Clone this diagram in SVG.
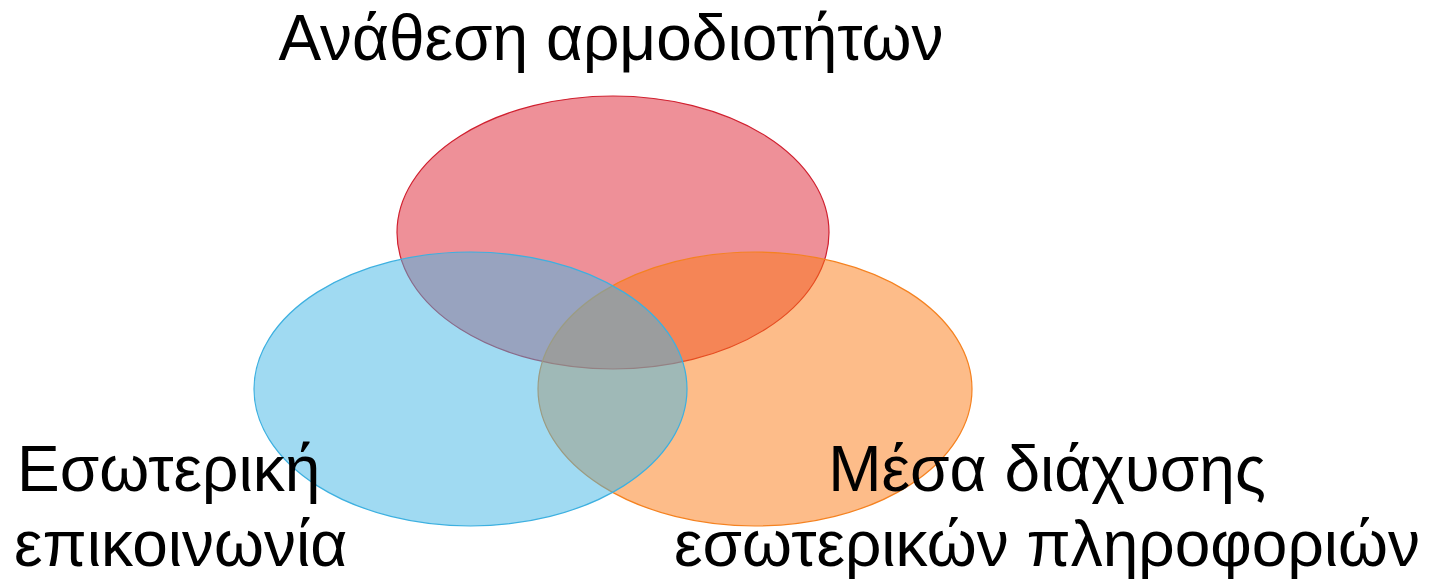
<svg xmlns="http://www.w3.org/2000/svg" width="1433" height="579" viewBox="0 0 1433 579">
<style>
.lbl{font-family:"Liberation Sans",Arial,sans-serif;font-size:64px;fill:#000}
.e{stroke-width:1.2}
</style>
<rect width="1433" height="579" fill="#fff"/>
<g id="red">
<ellipse class="e" cx="613" cy="232.5" rx="216" ry="136.5" fill="#E03444" fill-opacity="0.55" stroke="#D0202F"/>
</g>
<g id="orange">
<ellipse class="e" cx="755" cy="389" rx="217" ry="137" fill="#FB7A14" fill-opacity="0.5" stroke="#F58220"/>
</g>
<g id="blue">
<ellipse class="e" cx="470.5" cy="389" rx="216.5" ry="137" fill="#41B5E5" fill-opacity="0.5" stroke="#3DB0E0"/>
</g>
<g id="connectors"></g>
<g id="labels">
<text class="lbl" x="611" y="60" text-anchor="middle">Ανάθεση αρμοδιοτήτων</text>
<text class="lbl" x="17" y="491">Εσωτερική</text>
<text class="lbl" x="14" y="566">επικοινωνία</text>
<text class="lbl" x="1047" y="491" text-anchor="middle">Μέσα διάχυσης</text>
<text class="lbl" x="1047" y="566" text-anchor="middle">εσωτερικών πληροφοριών</text>
</g>
</svg>
